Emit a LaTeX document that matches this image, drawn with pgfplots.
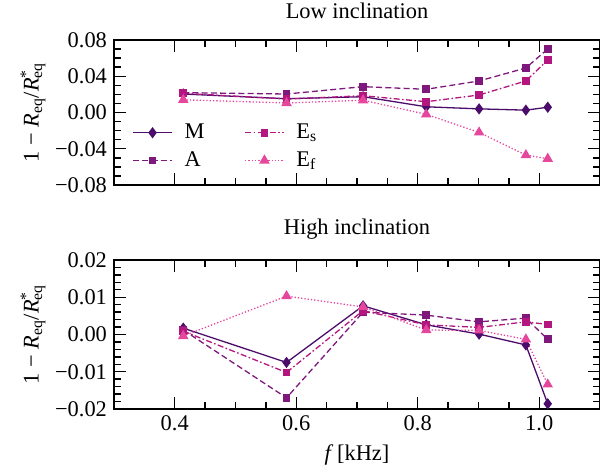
\documentclass[border=0pt]{standalone}
\usepackage{fontspec}
\setmainfont{Liberation Serif}
\usepackage{pgfplots}
\pgfplotsset{compat=1.18}
\definecolor{cM}{HTML}{4B0C6B}
\definecolor{cA}{HTML}{7E187C}
\definecolor{cEs}{HTML}{B3177F}
\definecolor{cEf}{HTML}{E5479D}
\pgfplotstableread{
x M A Es Ef
0.414 0.0204 0.0219 0.0212 0.0140
0.584 0.0152 0.0204 0.0149 0.0105
0.710 0.0174 0.0285 0.0185 0.0135
0.814 0.0063 0.0256 0.0119 -0.0020
0.901 0.0040 0.0348 0.0193 -0.0220
0.978 0.0026 0.0491 0.0348 -0.0470
1.014 0.0058 0.0701 0.0579 -0.0510
}\lowtab
\pgfplotstableread{
x M A Es Ef
0.414 0.0017 0.0012 0.0009 -0.0004
0.584 -0.0075 -0.0170 -0.0102 0.0103
0.710 0.0077 0.0060 0.0064 0.0074
0.814 0.0026 0.0052 0.0026 0.0012
0.901 0.0001 0.0034 0.0019 0.0011
0.978 -0.0028 0.0044 0.0034 -0.0013
1.014 -0.0186 -0.0013 0.0027 -0.0134
}\hightab
\pgfplotsset{
  myaxis/.style={
    scale only axis, width=243pt,
    xmin=0.3, xmax=1.1,
    xtick={0.4,0.6,0.8,1.0},
    minor x tick num=3,
    scaled y ticks=false, scaled x ticks=false,
    tick align=inside,
    major tick length=6pt, minor tick length=3.5pt,
    axis line style={line width=0.8pt},
    every tick/.style={line width=0.7pt, black},
    font=\fontsize{11.2}{13}\selectfont,
    /pgf/number format/assume math mode=true,
    title style={yshift=1pt},
    ylabel={1 − \textit{R}\textsubscript{eq}/\textit{R}\rlap{\textsuperscript{*}}\textsubscript{eq}},
    ylabel style={yshift=-2pt},
    every axis plot/.append style={line width=0.65pt},
    clip=false,
  },
  sM/.style={cM, solid, mark=diamond*, mark size=2.3pt, mark options={solid}},
  sA/.style={cA, dash pattern=on 3pt off 1.6pt, mark=square*, mark size=1.6pt, mark options={solid}},
  sEs/.style={cEs, dash pattern=on 3pt off 1.2pt on 0.8pt off 1.2pt, mark=square*, mark size=1.6pt, mark options={solid}},
  sEf/.style={cEf, densely dotted, mark=triangle*, mark size=2.4pt, mark options={solid}},
}
\begin{document}
\begin{tikzpicture}
\begin{axis}[myaxis,
  at={(57pt,-20pt)}, anchor=north west,
  height=72.5pt,
  ymin=-0.08, ymax=0.08,
  ytick={-0.08,-0.04,0,0.04,0.08},
  yticklabels={−0.08,−0.04,0.00,0.04,0.08},
  minor y tick num=3,
  xticklabels={},
  title={Low inclination},
  legend style={draw=none, fill=none, at={(0.025,0.05)}, anchor=south west,
    font=\fontsize{11.2}{13}\selectfont, row sep=1pt, column sep=4pt,
    /tikz/every even column/.append style={column sep=18pt}},
  legend columns=2, transpose legend,
  legend cell align=left,
  legend image code/.code={\draw[mark repeat=2,mark phase=2] plot coordinates {(0cm,0cm) (0.34cm,0cm) (0.68cm,0cm)};},
]
\addplot[sM] table[x=x,y=M]{\lowtab};
\addlegendentry{M}
\addplot[sA] table[x=x,y=A]{\lowtab};
\addlegendentry{A}
\addplot[sEs] table[x=x,y=Es]{\lowtab};
\addlegendentry{E\textsubscript{s}}
\addplot[sEf] table[x=x,y=Ef]{\lowtab};
\addlegendentry{E\textsubscript{f}}
\end{axis}
\begin{axis}[myaxis,
  at={(57pt,-130pt)}, anchor=north west,
  height=74.5pt,
  ymin=-0.02, ymax=0.02,
  ytick={-0.02,-0.01,0,0.01,0.02},
  yticklabels={−0.02,−0.01,0.00,0.01,0.02},
  minor y tick num=4,
  xticklabels={0.4,0.6,0.8,1.0},
  xlabel={\textit{f}\,[kHz]},
  title={High inclination},
]
\addplot[sM] table[x=x,y=M]{\hightab};
\addplot[sA] table[x=x,y=A]{\hightab};
\addplot[sEs] table[x=x,y=Es]{\hightab};
\addplot[sEf] table[x=x,y=Ef]{\hightab};
\end{axis}
\pgfresetboundingbox
\useasboundingbox (0,0) rectangle (300pt,-237.5pt);
\end{tikzpicture}
\end{document}
